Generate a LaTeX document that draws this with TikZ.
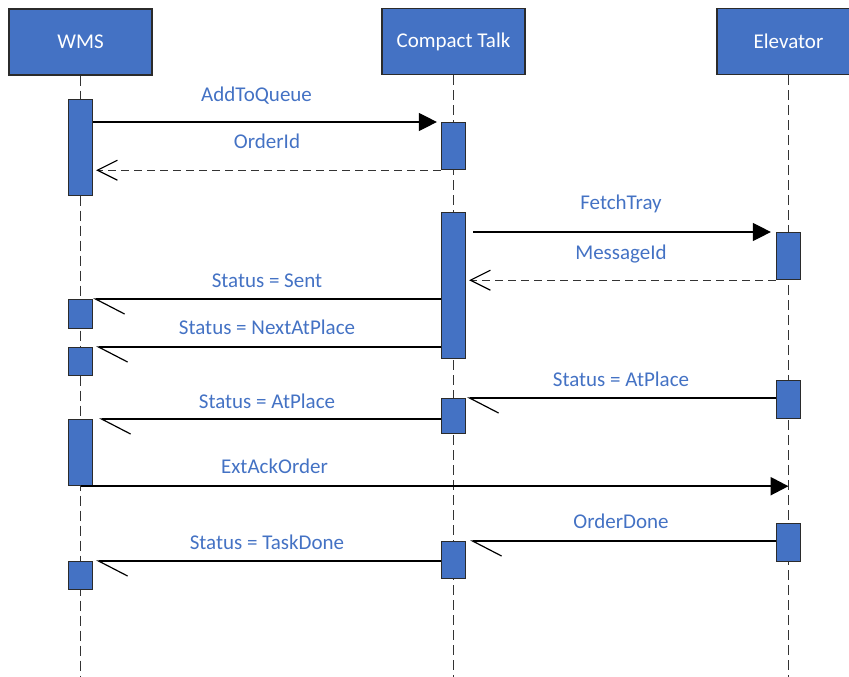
\documentclass[tikz,border=0pt]{standalone}
\usepackage{fontspec}
\setmainfont{Carlito}
\usepackage{xcolor}
\usetikzlibrary{arrows.meta}
\definecolor{boxblue}{HTML}{4472C4}
\definecolor{boxline}{HTML}{2B2B2B}
\definecolor{lifegray}{HTML}{333333}

\begin{document}
\begin{tikzpicture}[x=1pt, y=-1pt,
        head/.style={rectangle, draw=boxline, line width=1.2pt, fill=boxblue, text=white, minimum width=143pt, minimum height=66pt, font=\fontsize{21}{25}\selectfont},
        bar/.style={rectangle, draw=boxline, line width=1.2pt, fill=boxblue, minimum width=24pt, inner sep=0pt, anchor=north},
        lifeline/.style={lifegray, line width=1.2pt, dash pattern=on 10pt off 5pt},
        call/.style={line width=1.2pt, -{Triangle[length=18pt, width=18pt]}},
        reply/.style={lifegray, line width=1.2pt, dash pattern=on 8pt off 5pt, -{Straight Barb[length=20pt, width=20pt, color=black]}},
        async/.style={line width=1.2pt, -{Straight Barb[harpoon, length=29pt, width=30pt]}},
        lbl/.style={text=boxblue, font=\fontsize{21}{25}\selectfont, text height=14pt, text depth=4pt, inner sep=0pt}]
        \useasboundingbox (0,0) rectangle (849,677);
        \clip (0,0) rectangle (849,677);
        \coordinate (bot) at (0,677);

        % participants
        \node[head] at (80.5, 42)   (wms)  {WMS};
        \node[head] at (453.5, 41.5) (ct)   {Compact Talk};
        \node[head] at (788.5, 41.5) (elev) {Elevator};
        \draw[lifeline] (wms.south) -- (wms |- bot);
        \draw[lifeline] (ct.south) -- (ct |- bot);
        \draw[lifeline] (elev.south) -- (elev |- bot);

        % activations
        \node[bar, minimum height=96pt] at (80.5, 99)  (w1) {};
        \node[bar, minimum height=29pt] at (80.5, 299) (w2) {};
        \node[bar, minimum height=28pt] at (80.5, 347) (w3) {};
        \node[bar, minimum height=66pt] at (80.5, 419) (w4) {};
        \node[bar, minimum height=28pt] at (80.5, 561) (w5) {};

        \node[bar, minimum height=47pt]  at (453.5, 122) (c1) {};
        \node[bar, minimum height=146pt] at (453.5, 212) (c2) {};
        \node[bar, minimum height=35pt]  at (453.5, 398) (c3) {};
        \node[bar, minimum height=37pt]  at (453.5, 541) (c4) {};

        \node[bar, minimum height=47pt] at (788.5, 232) (e1) {};
        \node[bar, minimum height=38pt] at (788.5, 380) (e2) {};
        \node[bar, minimum height=38pt] at (788.5, 523) (e3) {};

        % messages
        \draw[call, shorten >=4pt] (w1.east |- c1.north) -- node[lbl, pos=.47, yshift=26pt] {AddToQueue} (c1.north west);
        \draw[reply, shorten >=3pt] (c1.south west) -- node[lbl, yshift=27pt] {OrderId} (w1.east |- c1.south);
        \draw[call, shorten <=7pt, shorten >=5pt] (c2.east |- e1.north) -- node[lbl, yshift=28pt] {FetchTray} (e1.north west);
        \draw[reply, shorten >=3pt] (e1.south west) -- node[lbl, yshift=26pt] {MessageId} (c2.east |- e1.south);
        \draw[async] (c2.west |- w2.north) -- node[lbl, yshift=17pt] {Status = Sent} (w2.north east);
        \draw[async, shorten >=3pt] (c2.west |- w3.north) -- node[lbl, yshift=18pt] {Status = NextAtPlace} (w3.north east);
        \draw[async, shorten >=1pt] (e2.west |- c3.north) -- node[lbl, yshift=17pt] {Status = AtPlace} (c3.north east);
        \draw[async, shorten >=6pt] (c3.west |- w4.north) -- node[lbl, yshift=16pt] {Status = AtPlace} (w4.north east);
        \draw[call, line width=2.4pt] (w4.south) -- node[lbl, pos=.274, yshift=18pt] {ExtAckOrder} (elev |- w4.south);
        \draw[async, shorten >=4pt] (e3.west |- c4.north) -- node[lbl, yshift=18pt] {OrderDone} (c4.north east);
        \draw[async, shorten >=3pt] (c4.west |- w5.north) -- node[lbl, yshift=17pt] {Status = TaskDone} (w5.north east);
    \end{tikzpicture}
\end{document}
